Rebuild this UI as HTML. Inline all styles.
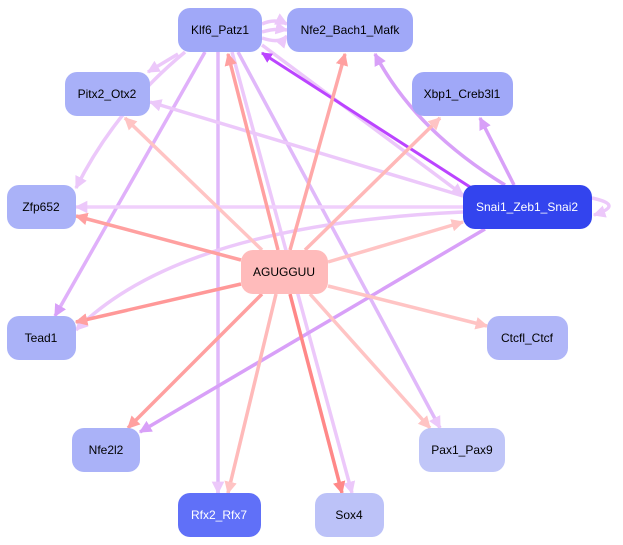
<!DOCTYPE html>
<html><head><meta charset="utf-8"><style>
html,body{margin:0;padding:0;background:#fff;}
svg{display:block;}
text{font-family:"Liberation Sans",sans-serif;font-size:12px;text-anchor:middle;dominant-baseline:central;}
</style></head><body>
<svg width="623" height="545" viewBox="0 0 623 545" xmlns="http://www.w3.org/2000/svg">
<defs>
<marker id="mR" viewBox="0 0 10 10" refX="9" refY="5" markerWidth="3.6" markerHeight="3.6" orient="auto"><path d="M0,0L10,5L0,10z" fill="#ffa0a0"/></marker>
<marker id="mL" viewBox="0 0 10 10" refX="9" refY="5" markerWidth="3.6" markerHeight="3.6" orient="auto"><path d="M0,0L10,5L0,10z" fill="#ffc4c4"/></marker>
<marker id="mD" viewBox="0 0 10 10" refX="9" refY="5" markerWidth="3.6" markerHeight="3.6" orient="auto"><path d="M0,0L10,5L0,10z" fill="#ff8888"/></marker>
<marker id="mV" viewBox="0 0 10 10" refX="9" refY="5" markerWidth="3.6" markerHeight="3.6" orient="auto"><path d="M0,0L10,5L0,10z" fill="#ecc8fa"/></marker>
<marker id="mP" viewBox="0 0 10 10" refX="9" refY="5" markerWidth="3.6" markerHeight="3.6" orient="auto"><path d="M0,0L10,5L0,10z" fill="#d8a0f8"/></marker>
<marker id="mS" viewBox="0 0 10 10" refX="9" refY="5" markerWidth="3.6" markerHeight="3.6" orient="auto"><path d="M0,0L10,5L0,10z" fill="#bb44ff"/></marker>
</defs>
<g fill="none" stroke-width="3.5">
<path d="M178,54 L148,72" stroke="#ecc8fa" marker-end="url(#mV)"/>
<path d="M185,52 Q115,110 76,188" stroke="#ecc8fa" marker-end="url(#mV)"/>
<path d="M205,52 L55,316" stroke="#e0b0fa" marker-end="url(#mP)"/>
<path d="M218,52 L218,493" stroke="#e0b8fa" marker-end="url(#mV)"/>
<path d="M232,52 L352,493" stroke="#ecc8fa" marker-end="url(#mV)"/>
<path d="M238,52 L440,428" stroke="#e0b8fa" marker-end="url(#mV)"/>
<path d="M262,45 L463,195" stroke="#ecc8fa" marker-end="url(#mV)"/>
<path d="M262,24 Q275,18 287,24" stroke="#ecc8fa" marker-end="url(#mV)"/>
<path d="M262,32 Q275,28 287,30" stroke="#ecc8fa" marker-end="url(#mV)"/>
<path d="M262,38 Q280,44 287,36" stroke="#ecc8fa" marker-end="url(#mV)"/>
<path d="M463,196 L150,102" stroke="#ecc8fa" marker-end="url(#mV)"/>
<path d="M463,207 L76,207" stroke="#f0d0fc" marker-end="url(#mV)"/>
<path d="M463,212 Q180,225 76,330" stroke="#ecc8fa" marker-end="url(#mV)"/>
<path d="M485,229 L140,432" stroke="#d8a0f8" marker-end="url(#mP)"/>
<path d="M514,185 L480,118" stroke="#d8a0f8" marker-end="url(#mP)"/>
<path d="M505,185 Q415,130 375,54" stroke="#d8a0f8" marker-end="url(#mP)"/>
<path d="M470,187 L262,53" stroke="#bb44ff" stroke-width="3" marker-end="url(#mS)"/>
<path d="M592,198 Q625,205 594,215" stroke="#ecc8fa" marker-end="url(#mV)"/>
<path d="M290,250 L345,54" stroke="#ffa8a8" marker-end="url(#mR)"/>
<path d="M278,250 L228,54" stroke="#ffa0a0" marker-end="url(#mR)"/>
<path d="M305,250 L440,118" stroke="#ffb8b8" marker-end="url(#mL)"/>
<path d="M262,250 L125,118" stroke="#ffc4c4" marker-end="url(#mL)"/>
<path d="M241,260 L76,216" stroke="#ffa0a0" marker-end="url(#mR)"/>
<path d="M241,284 L76,322" stroke="#ff9898" marker-end="url(#mR)"/>
<path d="M328,262 L463,222" stroke="#ffc4c4" marker-end="url(#mL)"/>
<path d="M328,286 L487,326" stroke="#ffc4c4" marker-end="url(#mL)"/>
<path d="M262,294 L128,428" stroke="#ffa0a0" marker-end="url(#mR)"/>
<path d="M276,294 L228,493" stroke="#ffbaba" marker-end="url(#mL)"/>
<path d="M290,294 L342,493" stroke="#ff8888" marker-end="url(#mD)"/>
<path d="M310,294 L430,428" stroke="#ffc4c4" marker-end="url(#mL)"/>
</g>
<g>
<rect x="178" y="8" width="84" height="44" rx="12" fill="#a0a8f8"/><text x="220" y="30">Klf6_Patz1</text>
<rect x="287" y="8" width="126" height="44" rx="12" fill="#a0a8f8"/><text x="350" y="30">Nfe2_Bach1_Mafk</text>
<rect x="65" y="72" width="85" height="44" rx="12" fill="#a8b0f8"/><text x="107" y="94">Pitx2_Otx2</text>
<rect x="412" y="72" width="101" height="44" rx="12" fill="#a0a8f8"/><text x="462" y="94">Xbp1_Creb3l1</text>
<rect x="7" y="185" width="69" height="44" rx="12" fill="#aab2f8"/><text x="41" y="207">Zfp652</text>
<rect x="463" y="185" width="129" height="44" rx="12" fill="#3344ee"/><text x="527" y="207" fill="#fff">Snai1_Zeb1_Snai2</text>
<rect x="241" y="250" width="87" height="44" rx="12" fill="#ffbbbb"/><text x="284" y="272">AGUGGUU</text>
<rect x="7" y="316" width="69" height="44" rx="12" fill="#aab2f8"/><text x="41" y="338">Tead1</text>
<rect x="487" y="316" width="81" height="44" rx="12" fill="#b0b6f8"/><text x="527" y="338">Ctcfl_Ctcf</text>
<rect x="72" y="428" width="68" height="44" rx="12" fill="#aab2f8"/><text x="106" y="450">Nfe2l2</text>
<rect x="419" y="428" width="86" height="44" rx="12" fill="#c0c6f8"/><text x="462" y="450">Pax1_Pax9</text>
<rect x="178" y="493" width="83" height="44" rx="12" fill="#6070f8"/><text x="219" y="515" fill="#fff">Rfx2_Rfx7</text>
<rect x="315" y="493" width="69" height="44" rx="12" fill="#bcc2f8"/><text x="349" y="515">Sox4</text>
</g>
</svg>
</body></html>
